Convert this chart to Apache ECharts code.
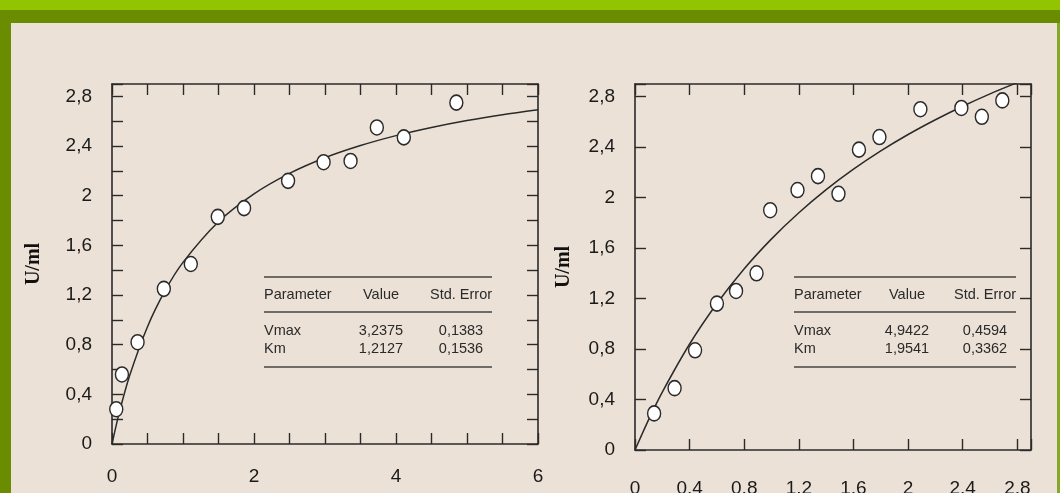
<!DOCTYPE html>
<html>
<head>
<meta charset="utf-8">
<script src="https://cdn.jsdelivr.net/npm/echarts@6/dist/echarts.min.js"></script>
<style>
html,body{margin:0;padding:0;background:#ECE1D6;}
#chart{width:1060px;height:493px;}
</style>
</head>
<body>
<div id="chart"></div>
<script>
// left panel: measured points + fitted curve
var leftX = [0.06, 0.14, 0.36, 0.73, 1.11, 1.49, 1.86, 2.48, 2.98, 3.36, 3.73, 4.11, 4.85];
var leftY = [0.28, 0.56, 0.82, 1.25, 1.45, 1.83, 1.9, 2.12, 2.27, 2.28, 2.55, 2.47, 2.75];
var leftCurveX = [0, 0.1, 0.25, 0.5, 0.75, 1, 1.5, 2, 2.5, 3, 3.5, 4, 4.5, 5, 5.5, 6];
var leftCurveY = [0, 0.247, 0.553, 0.945, 1.237, 1.463, 1.790, 2.015, 2.180, 2.306, 2.404, 2.484, 2.550, 2.606, 2.653, 2.693];

// right panel
var rightX = [0.14, 0.29, 0.44, 0.6, 0.74, 0.89, 0.99, 1.19, 1.34, 1.49, 1.64, 1.79, 2.09, 2.39, 2.54, 2.69];
var rightY = [0.29, 0.49, 0.79, 1.16, 1.26, 1.4, 1.9, 2.06, 2.17, 2.03, 2.38, 2.48, 2.7, 2.71, 2.64, 2.77];
var rightCurveX = [0, 0.1, 0.2, 0.4, 0.6, 0.8, 1.0, 1.2, 1.4, 1.6, 1.8, 2.0, 2.2, 2.4, 2.6, 2.8, 2.9];
var rightCurveY = [0, 0.241, 0.459, 0.840, 1.161, 1.436, 1.673, 1.880, 2.063, 2.225, 2.370, 2.500, 2.617, 2.724, 2.822, 2.911, 2.953];

// tick labels shown
var leftXLabels = [0, 2, 4, 6];
var leftYLabels = [0, 0.4, 0.8, 1.2, 1.6, 2, 2.4, 2.8];
var rightXLabels = [0, 0.4, 0.8, 1.2, 1.6, 2, 2.4, 2.8];
var rightYLabels = [0, 0.4, 0.8, 1.2, 1.6, 2, 2.4, 2.8];

// fit tables
var tableHead = ['Parameter', 'Value', 'Std. Error'];
var tableParams = ['Vmax', 'Km'];
var leftValues = ['3,2375', '1,2127'];
var leftErrors = ['0,1383', '0,1536'];
var rightValues = ['4,9422', '1,9541'];
var rightErrors = ['0,4594', '0,3362'];

var ink = '#2a2a2a';

function pair(xs, ys) {
	var out = [];
	for (var i = 0; i < xs.length; i++) out.push([xs[i], ys[i]]);
	return out;
}

function labelFmt(list) {
	return function (v) {
		for (var i = 0; i < list.length; i++) {
			if (Math.abs(list[i] - v) < 1e-6) return String(list[i]).replace('.', ',');
		}
		return '';
	};
}

function makeAxis(grid, pos, min, max, step, labels, margin, name, gap) {
	var ax = {
		type: 'value',
		gridIndex: grid,
		position: pos,
		min: min,
		max: max,
		interval: step,
		axisLine: {show: true, onZero: false, lineStyle: {color: ink, width: 1.6}},
		axisTick: {show: true, inside: true, length: 11, lineStyle: {color: ink, width: 1.4}},
		splitLine: {show: false},
		axisLabel: {show: !!labels, color: '#1a1a1a', fontSize: 19, fontFamily: 'Liberation Sans',
			margin: margin || 8, formatter: labels ? labelFmt(labels) : null}
	};
	if (name) {
		ax.name = name;
		ax.nameLocation = 'middle';
		ax.nameGap = gap;
		ax.nameTextStyle = {fontFamily: 'Liberation Serif', fontWeight: 'bold', fontSize: 20, color: '#111'};
	}
	return ax;
}

function tableGraphic(x0, x1, yTop, vals, errs, cVal, cErr) {
	var g = [];
	var font = '14.5px "Liberation Sans"';
	[yTop, yTop + 35, yTop + 90].forEach(function (y) {
		g.push({type: 'line', shape: {x1: x0, y1: y, x2: x1, y2: y}, style: {stroke: '#444', lineWidth: 1.3}});
	});
	var hy = yTop + 18;
	g.push({type: 'text', x: x0, y: hy, style: {text: tableHead[0], font: font, fill: ink, verticalAlign: 'middle'}});
	g.push({type: 'text', x: cVal, y: hy, style: {text: tableHead[1], font: font, fill: ink, align: 'center', verticalAlign: 'middle'}});
	g.push({type: 'text', x: cErr, y: hy, style: {text: tableHead[2], font: font, fill: ink, align: 'center', verticalAlign: 'middle'}});
	for (var i = 0; i < tableParams.length; i++) {
		var ry = yTop + 54 + i * 18;
		g.push({type: 'text', x: x0, y: ry, style: {text: tableParams[i], font: font, fill: ink, verticalAlign: 'middle'}});
		g.push({type: 'text', x: cVal, y: ry, style: {text: vals[i], font: font, fill: ink, align: 'center', verticalAlign: 'middle'}});
		g.push({type: 'text', x: cErr, y: ry, style: {text: errs[i], font: font, fill: ink, align: 'center', verticalAlign: 'middle'}});
	}
	return g;
}

var myChart = echarts.init(document.getElementById('chart'));

var graphics = [
	{type: 'rect', shape: {x: 0, y: 0, width: 1060, height: 10}, style: {fill: '#92C400'}},
	{type: 'rect', shape: {x: 0, y: 10, width: 1060, height: 13}, style: {fill: '#6A8C00'}},
	{type: 'rect', shape: {x: 0, y: 10, width: 11, height: 483}, style: {fill: '#6A8C00'}},
	{type: 'rect', shape: {x: 1057, y: 23, width: 3, height: 470}, style: {fill: '#86A82A'}}
];
graphics = graphics.concat(tableGraphic(264, 492, 277, leftValues, leftErrors, 381, 461));
graphics = graphics.concat(tableGraphic(794, 1016, 277, rightValues, rightErrors, 907, 985));

var option = {
	animation: false,
	backgroundColor: '#ECE1D6',
	grid: [
		{left: 112, top: 84, width: 426, height: 360, outerBoundsMode: 'none', containLabel: false},
		{left: 635, top: 84, width: 396, height: 366, outerBoundsMode: 'none', containLabel: false}
	],
	xAxis: [
		makeAxis(0, 'bottom', 0, 6, 0.5, leftXLabels, 23),
		makeAxis(0, 'top', 0, 6, 0.5, null),
		makeAxis(1, 'bottom', 0, 2.9, 0.4, rightXLabels, 29),
		makeAxis(1, 'top', 0, 2.9, 0.4, null)
	],
	yAxis: [
		makeAxis(0, 'left', 0, 2.9, 0.2, leftYLabels, 20, 'U/ml', 68),
		makeAxis(0, 'right', 0, 2.9, 0.2, null),
		makeAxis(1, 'left', 0, 2.9, 0.4, rightYLabels, 20, 'U/ml', 61),
		makeAxis(1, 'right', 0, 2.9, 0.4, null)
	],
	graphic: graphics,
	series: [
		{
			type: 'line', xAxisIndex: 0, yAxisIndex: 0,
			data: pair(leftCurveX, leftCurveY),
			smooth: 0.3, showSymbol: false, clip: true,
			lineStyle: {color: ink, width: 1.5}
		},
		{
			type: 'scatter', xAxisIndex: 0, yAxisIndex: 0,
			data: pair(leftX, leftY),
			symbol: 'circle', symbolSize: [13, 15], z: 5,
			itemStyle: {color: '#fff', borderColor: ink, borderWidth: 1.5, opacity: 1}
		},
		{
			type: 'line', xAxisIndex: 2, yAxisIndex: 2,
			data: pair(rightCurveX, rightCurveY),
			smooth: 0.3, showSymbol: false, clip: true,
			lineStyle: {color: ink, width: 1.5}
		},
		{
			type: 'scatter', xAxisIndex: 2, yAxisIndex: 2,
			data: pair(rightX, rightY),
			symbol: 'circle', symbolSize: [13, 15], z: 5,
			itemStyle: {color: '#fff', borderColor: ink, borderWidth: 1.5, opacity: 1}
		}
	]
};

myChart.setOption(option);
</script>
</body>
</html>
